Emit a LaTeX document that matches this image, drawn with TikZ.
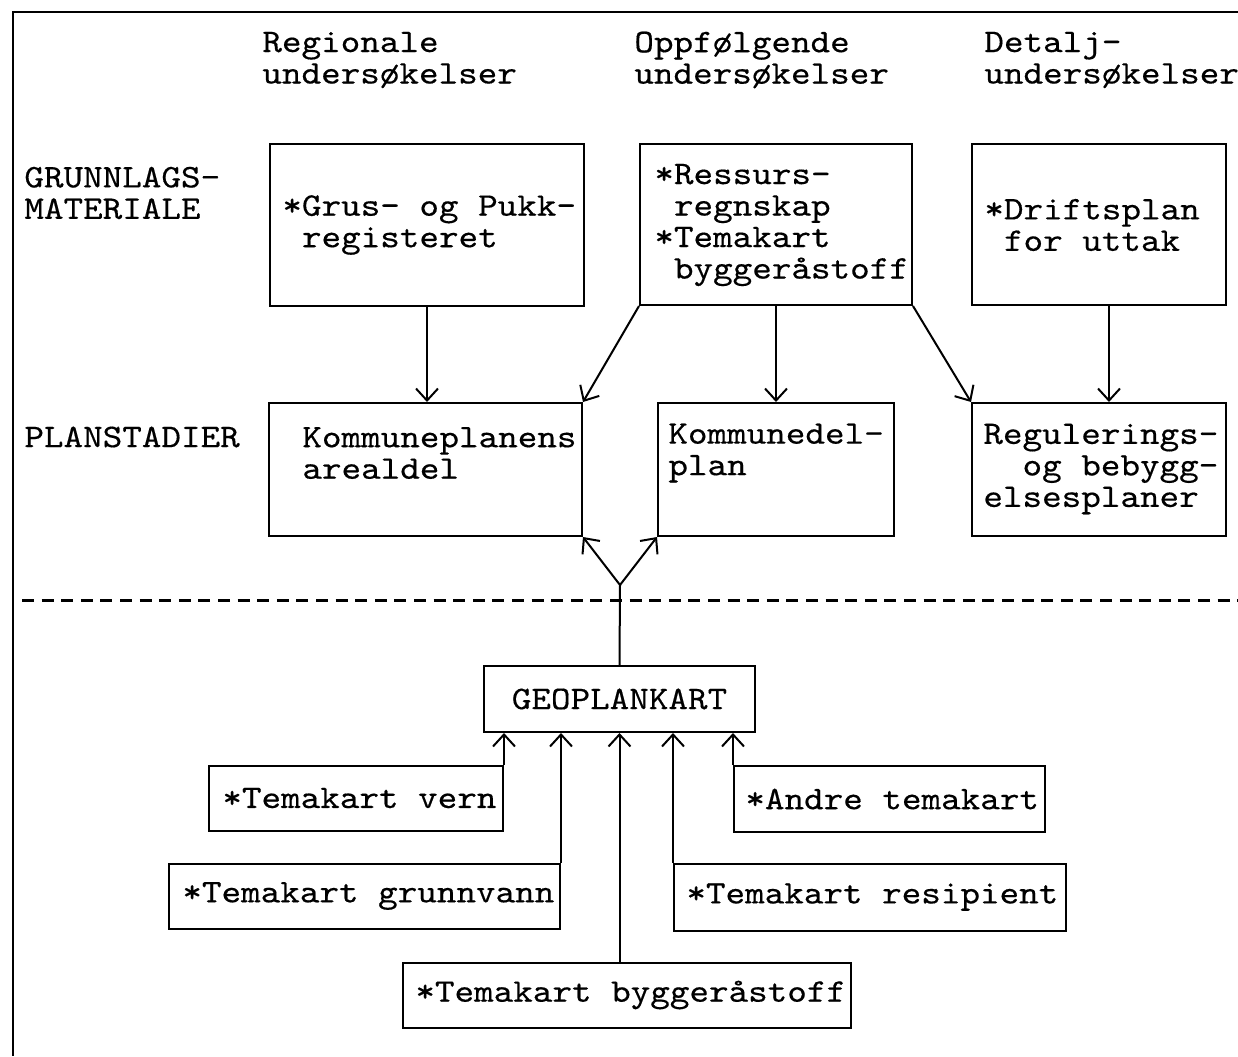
\documentclass[tikz,border=0pt]{standalone}
\usepackage{fontspec}
\newfontfamily\tw{lmmono10-regular.otf}[FakeStretch=1.13,FakeBold=0.4]
\usetikzlibrary{arrows.meta,fit}
\begin{document}
\begin{tikzpicture}[x=0.5pt,y=-0.5pt,
  box/.style={draw, line width=1pt, inner sep=0pt},
  txt/.style={font=\tw\fontsize{16.5}{15.75}\selectfont, align=left, inner sep=0pt, anchor=west},
  arr/.style={line width=1pt, -{Straight Barb[length=6pt,width=11pt]}},
  ln/.style={line width=1pt}]
\useasboundingbox (0,0) rectangle (1238,1056);
\draw[line width=1.2pt] (1238,12) -- (13,12) -- (13,1056);
% headers
\node[txt] (h1) at (262,60) {Regionale\\undersøkelser};
\node[txt] (h2) at (634,60) {Oppfølgende\\undersøkelser};
\node[txt] (h3) at (984,60) {Detalj-\\undersøkelser};
\node[txt] (r1) at (24,193) {GRUNNLAGS-\\MATERIALE};
\node[txt] (r2) at (24,437) {PLANSTADIER};
% row 1
\node[box, fit={(270,144) (584,306)}] (b1) {};
\node[txt] (t1) at (282,225) {*Grus- og Pukk-\\~registeret};
\node[box, fit={(640,144) (912,305)}] (b2) {};
\node[txt] (t2) at (654,225) {*Ressurs-\\~regnskap\\*Temakart\\~byggeråstoff};
\node[box, fit={(972,144) (1226,305)}] (b3) {};
\node[txt] (t3) at (984,225) {*Driftsplan\\~for uttak};
% row 2
\node[box, fit={(269,403) (582,536)}] (b4) {};
\node[txt] (t4) at (302,453) {Kommuneplanens\\arealdel};
\node[box, fit={(658,403) (894,536)}] (b5) {};
\node[txt] (t5) at (668,453) {Kommunedel-\\plan};
\node[box, fit={(972,403) (1226,536)}] (b6) {};
\node[txt] (t6) at (983,469) {Regulerings-\\~~og bebygg-\\elsesplaner};
% dashed separator
\coordinate (dl) at (22,600);
\coordinate (dr) at (1238,600);
\draw[line width=1.5pt, dash pattern=on 6pt off 3.8pt] (dl) -- (dr);
% geoplankart
\node[box, fit={(484,666) (755,732)}] (geo) {};
\node[txt, anchor=center] (tg) at (geo.center) {GEOPLANKART};
% lower boxes
\node[box, fit={(209,766) (503,831)}] (vern) {};
\node[txt] (tv) at (222,798) {*Temakart vern};
\node[box, fit={(169,864) (560,929)}] (grunn) {};
\node[txt] (tgr) at (182,896) {*Temakart grunnvann};
\node[box, fit={(734,766) (1045,832)}] (andre) {};
\node[txt] (ta) at (745,799) {*Andre temakart};
\node[box, fit={(674,864) (1066,931)}] (resip) {};
\node[txt] (tr) at (686,897) {*Temakart resipient};
\node[box, fit={(403,963) (851,1028)}] (bygg) {};
\node[txt] (tb) at (415,995) {*Temakart byggeråstoff};
% arrows row1 -> row2
\draw[arr] (b1.south) -- (b1.south |- b4.north);
\draw[arr] (b2.south) -- (b2.south |- b5.north);
\draw[arr] (b2.south west) -- (b4.north east);
\draw[arr] (b2.south east) -- (b6.north west);
\draw[arr] ([xshift=5pt]b3.south) -- ([xshift=5pt]b3.south |- b6.north);
% junction
\coordinate (J) at (620,585);
\draw[ln] (geo.north) -- (J);
\draw[arr] (J) -- (b4.south east);
\draw[arr] (J) -- (b5.south west);
% into geoplankart
\draw[arr] (vern.north east) -- (vern.north east |- geo.south);
\draw[arr] (grunn.north east) -- (grunn.north east |- geo.south);
\draw[arr] (geo.south |- bygg.north) -- (geo.south);
\draw[arr] (resip.north west) -- (resip.north west |- geo.south);
\draw[arr] (andre.north west) -- (andre.north west |- geo.south);
\end{tikzpicture}
\end{document}
